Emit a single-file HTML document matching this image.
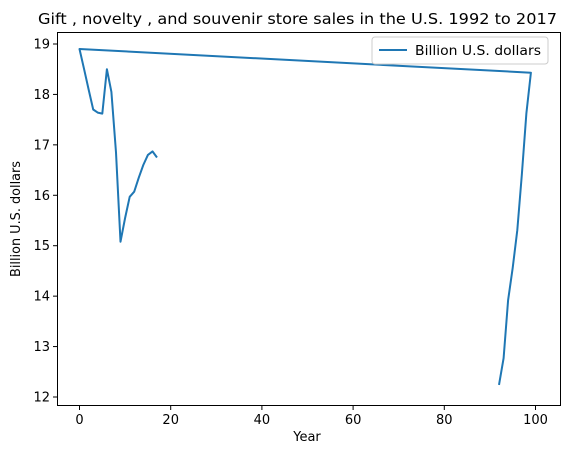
<!DOCTYPE html>
<html><head><meta charset="utf-8"><style>
body{margin:0;background:#fff;font-family:"Liberation Sans","DejaVu Sans",sans-serif;}
svg text{font-family:"DejaVu Sans","Liberation Sans",sans-serif;fill:#000;}
</style></head><body>
<svg id="chart" width="582" height="455" xmlns="http://www.w3.org/2000/svg">
<text x="38" y="24" font-size="15.5" textLength="519" lengthAdjust="spacingAndGlyphs">Gift , novelty , and souvenir store sales in the U.S. 1992 to 2017</text>
<g id="axes"></g>
<path id="series" fill="none" stroke="#1f77b4" stroke-width="2" stroke-linejoin="round"/>
<rect x="57.5" y="32.5" width="503" height="373" fill="none" stroke="#000" stroke-width="1"/>
<g>
<rect x="372" y="37" width="176" height="27" rx="3" fill="#fff" stroke="#ccc"/>
<line x1="379" y1="50" x2="407" y2="50" stroke="#1f77b4" stroke-width="2"/>
<text x="415" y="55" font-size="13" textLength="126" lengthAdjust="spacingAndGlyphs">Billion U.S. dollars</text>
</g>
<text x="307" y="441" font-size="13" text-anchor="middle">Year</text>
<text transform="translate(20,277) rotate(-90)" font-size="13" textLength="116" lengthAdjust="spacingAndGlyphs">Billion U.S. dollars</text>
</svg>
<script>
const years=[92,93,94,95,96,97,98,99,0,1,2,3,4,5,6,7,8,9,10,11,12,13,14,15,16,17];
const values=[12.24,12.77,13.92,14.56,15.31,16.4,17.63,18.43,18.9,18.5,18.1,17.7,17.64,17.62,18.5,18.05,16.85,15.08,15.55,15.97,16.07,16.35,16.6,16.8,16.87,16.75];
const xTicks=[0,20,40,60,80,100];
const yTicks=[12,13,14,15,16,17,18,19];
function sx(v){return 79.5+v*4.56;}
function sy(v){return 397-(v-12)*50.43;}
const ns="http://www.w3.org/2000/svg";
const g=document.getElementById('axes');
xTicks.forEach(t=>{
 const l=document.createElementNS(ns,'line');
 
 
 l.setAttribute('x1',sx(t));l.setAttribute('x2',sx(t));l.setAttribute('y1',405.5);l.setAttribute('y2',410);l.setAttribute('stroke','#000');
 g.appendChild(l);
 const tx=document.createElementNS(ns,'text');
 
 
 tx.setAttribute('x',sx(t));tx.setAttribute('y',424);tx.setAttribute('font-size','13');tx.setAttribute('text-anchor','middle');
 tx.textContent=t;g.appendChild(tx);
});
yTicks.forEach(t=>{
 const l=document.createElementNS(ns,'line');
 
 
 l.setAttribute('x1',53);l.setAttribute('x2',57.5);l.setAttribute('y1',sy(t));l.setAttribute('y2',sy(t));l.setAttribute('stroke','#000');
 g.appendChild(l);
 const tx=document.createElementNS(ns,'text');
 
 
 tx.setAttribute('x',50);tx.setAttribute('y',sy(t)+4.5);tx.setAttribute('font-size','13');tx.setAttribute('text-anchor','end');
 tx.textContent=t;g.appendChild(tx);
});
document.getElementById('series').setAttribute('d',years.map((y,i)=>(i?'L':'M')+sx(y).toFixed(1)+','+sy(values[i]).toFixed(1)).join(' '));
</script>
</body></html>
